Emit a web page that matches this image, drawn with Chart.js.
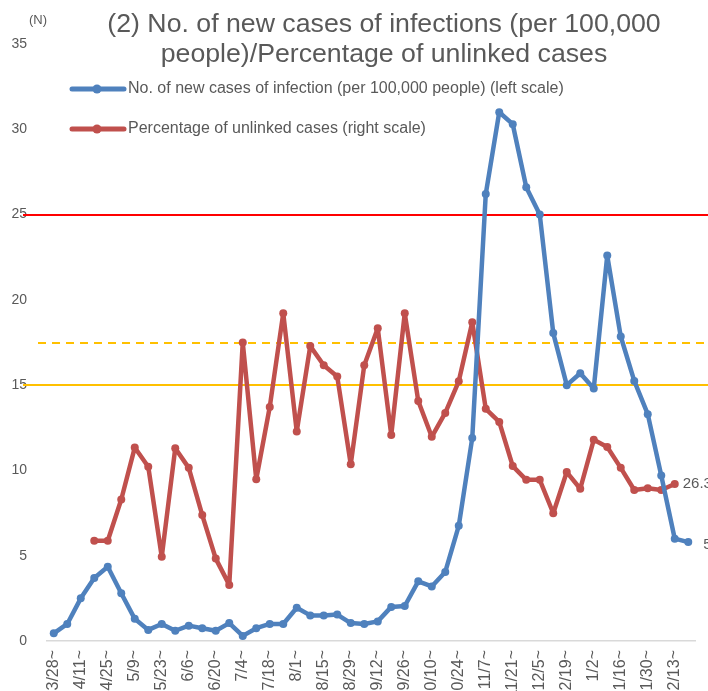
<!DOCTYPE html>
<html>
<head>
<meta charset="utf-8">
<script src="https://cdn.jsdelivr.net/npm/chart.js@4/dist/chart.umd.min.js"></script>
<style>
  html, body { margin: 0; padding: 0; background: #fff; overflow: hidden; }
  #wrap { width: 708px; height: 720px; }
</style>
</head>
<body>
<div id="wrap"><canvas id="chart" width="708" height="720"></canvas></div>
<script>
"use strict";

// weekly periods (start date of each week)
const weeks = [
  "3/28~", "4/4~", "4/11~", "4/18~", "4/25~", "5/2~", "5/9~", "5/16~",
  "5/23~", "5/30~", "6/6~", "6/13~", "6/20~", "6/27~", "7/4~", "7/11~",
  "7/18~", "7/25~", "8/1~", "8/8~", "8/15~", "8/22~", "8/29~", "9/5~",
  "9/12~", "9/19~", "9/26~", "10/3~", "10/10~", "10/17~", "10/24~", "10/31~",
  "11/7~", "11/14~", "11/21~", "11/28~", "12/5~", "12/12~", "12/19~", "12/26~",
  "1/2~", "1/9~", "1/16~", "1/23~", "1/30~", "2/6~", "2/13~", "2/20~"
];

// new cases per 100,000 people (left scale)
const newCases = [
  0.45, 1.0, 2.5, 3.7, 4.35, 2.8, 1.3, 0.65,
  1.0, 0.6, 0.9, 0.75, 0.6, 1.05, 0.3, 0.75,
  1.0, 1.0, 1.95, 1.5, 1.5, 1.55, 1.05, 1.0,
  1.15, 2.0, 2.05, 3.5, 3.2, 4.05, 6.75, 11.9,
  26.2, 31.0, 30.3, 26.6, 25.0, 18.05, 15.0, 15.7,
  14.8, 22.6, 17.85, 15.25, 13.3, 9.7, 6.0, 5.8
];

// percentage of unlinked cases (right scale, %)
const unlinkedPct = [
  null, null, null, 16.8, 16.8, 23.7, 32.4, 29.2,
  14.1, 32.3, 29.0, 21.1, 13.8, 9.4, 50.0, 27.1,
  39.2, 54.9, 35.1, 49.4, 46.2, 44.3, 29.6, 46.2,
  52.4, 34.5, 54.9, 40.2, 34.2, 38.2, 43.5, 53.4,
  38.9, 36.7, 29.3, 27.0, 27.0, 21.4, 28.3, 25.5,
  33.7, 32.5, 29.0, 25.3, 25.6, 25.3, 26.3, null
];

const leftTicks = [0, 5, 10, 15, 20, 25, 30, 35];
const rightRange = [0, 100];

// reference lines: value and the axis it belongs to
const refValues = [25, 15, 50];
const refAxes = ["y", "y", "y1"];

const titleLines = [
  "(2) No. of new cases of infections (per 100,000",
  "people)/Percentage of unlinked cases"
];
const unitLabel = "(N)";
const seriesNames = [
  "No. of new cases of infection (per 100,000 people) (left scale)",
  "Percentage of unlinked cases (right scale)"
];

const BLUE = "#4F81BD";
const RED = "#C0504D";
const GREY = "#595959";
const FONT = "'Liberation Sans', Arial, sans-serif";

// reference lines behind the data
const refLinePlugin = {
  id: "refLines",
  beforeDatasetsDraw(chart) {
    const ctx = chart.ctx;
    const styles = [
      { color: "#FF0000", dash: [], x0: 23 },
      { color: "#FFC000", dash: [], x0: 23 },
      { color: "#FFC000", dash: [8, 6], x0: 38 }
    ];
    ctx.save();
    for (let i = 0; i < refValues.length; i++) {
      const y = Math.round(chart.scales[refAxes[i]].getPixelForValue(refValues[i]));
      ctx.strokeStyle = styles[i].color;
      ctx.lineWidth = 2;
      ctx.setLineDash(styles[i].dash);
      ctx.beginPath();
      ctx.moveTo(styles[i].x0, y);
      ctx.lineTo(chart.width, y);
      ctx.stroke();
    }
    ctx.restore();
  }
};

// title, unit, legend and end labels
const textPlugin = {
  id: "texts",
  afterDraw(chart) {
    const ctx = chart.ctx;
    ctx.save();
    ctx.fillStyle = GREY;
    ctx.textBaseline = "middle";

    ctx.font = "26.7px " + FONT;
    ctx.textAlign = "center";
    ctx.fillText(titleLines[0], 384, 25);
    ctx.fillText(titleLines[1], 384, 55);

    ctx.font = "13px " + FONT;
    ctx.fillText(unitLabel, 38, 20);

    // legend
    const colors = [BLUE, RED];
    const rows = [89, 129];
    ctx.textAlign = "left";
    ctx.font = "16px " + FONT;
    for (let i = 0; i < 2; i++) {
      ctx.strokeStyle = colors[i];
      ctx.lineWidth = 5;
      ctx.lineCap = "round";
      ctx.beginPath();
      ctx.moveTo(72, rows[i]);
      ctx.lineTo(124, rows[i]);
      ctx.stroke();
      ctx.fillStyle = colors[i];
      ctx.beginPath();
      ctx.arc(97, rows[i], 4.5, 0, Math.PI * 2);
      ctx.fill();
      ctx.fillStyle = GREY;
      ctx.fillText(seriesNames[i], 128, rows[i]);
    }

    // value labels on the last points
    ctx.font = "15px " + FONT;
    const lastRed = chart.getDatasetMeta(1).data[46];
    ctx.fillText(String(unlinkedPct[46]), lastRed.x + 8, lastRed.y);
    const lastBlue = chart.getDatasetMeta(0).data[47];
    ctx.fillText(String(newCases[47]), lastBlue.x + 15, lastBlue.y + 3);
    ctx.restore();
  }
};

const data = {
  labels: weeks,
  datasets: [
    {
      label: seriesNames[0],
      data: newCases,
      yAxisID: "y",
      borderColor: BLUE,
      backgroundColor: BLUE,
      borderWidth: 4.5,
      borderJoinStyle: "round",
      borderCapStyle: "round",
      pointRadius: 4,
      pointBorderWidth: 0,
      pointBackgroundColor: BLUE,
      tension: 0
    },
    {
      label: seriesNames[1],
      data: unlinkedPct,
      yAxisID: "y1",
      borderColor: RED,
      backgroundColor: RED,
      borderWidth: 4.5,
      borderJoinStyle: "round",
      borderCapStyle: "round",
      pointRadius: 4,
      pointBorderWidth: 0,
      pointBackgroundColor: RED,
      tension: 0
    }
  ]
};

const config = {
  type: "line",
  data: data,
  options: {
    responsive: false,
    animation: false,
    layout: { padding: { top: 44, right: 13, left: 0, bottom: 0 } },
    plugins: {
      legend: { display: false },
      title: { display: false },
      tooltip: { enabled: false }
    },
    scales: {
      x: {
        type: "category",
        offset: true,
        grid: { display: false, drawTicks: false },
        border: { display: true, color: "#D9D9D9", width: 1.5 },
        ticks: {
          autoSkip: false,
          maxRotation: 90,
          minRotation: 90,
          padding: 9,
          color: GREY,
          font: { family: FONT, size: 16 },
          callback: function (value, index) {
            return index % 2 === 0 ? weeks[index] : "";
          }
        },
        afterFit: function (scale) {
          scale.height = 79;
          scale.paddingLeft = 0;
          scale.paddingRight = 0;
        }
      },
      y: {
        position: "left",
        min: leftTicks[0],
        max: leftTicks[leftTicks.length - 1],
        grid: { display: false, drawTicks: false },
        border: { display: false },
        ticks: {
          stepSize: leftTicks[1] - leftTicks[0],
          padding: 20,
          color: GREY,
          font: { family: FONT, size: 14 }
        },
        afterFit: function (scale) { scale.width = 47; }
      },
      y1: {
        position: "right",
        display: false,
        min: rightRange[0],
        max: rightRange[1]
      }
    }
  },
  plugins: [refLinePlugin, textPlugin]
};

const lineChart = new Chart(document.getElementById("chart"), config);
</script>
</body>
</html>
